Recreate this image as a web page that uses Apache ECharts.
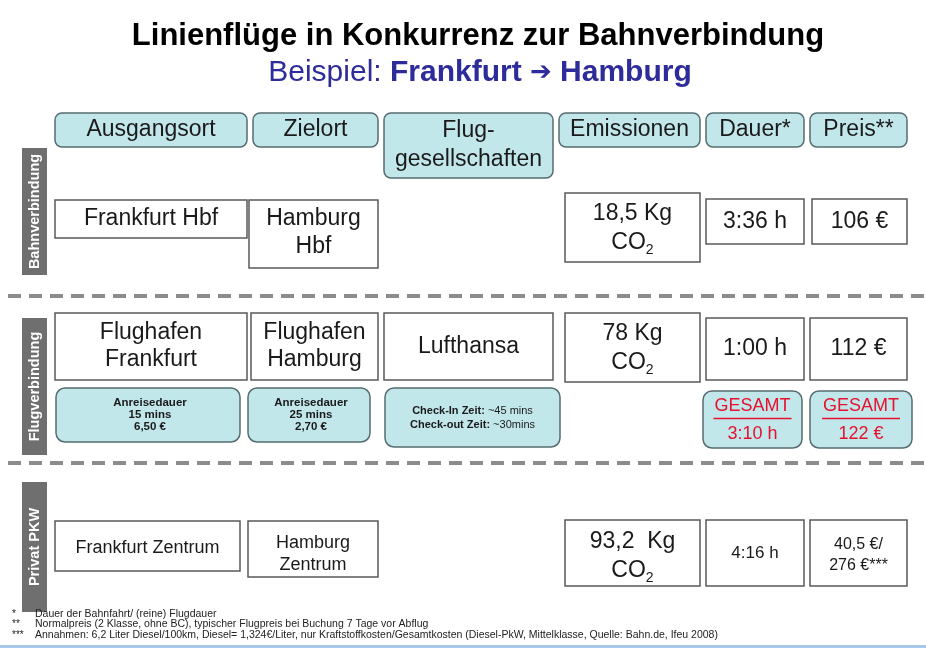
<!DOCTYPE html>
<html>
<head>
<meta charset="utf-8">
<script src="https://cdn.jsdelivr.net/npm/echarts@6/dist/echarts.min.js"></script>
<style>html,body{margin:0;padding:0;background:#fff}#chart{width:926px;height:648px}</style>
</head>
<body>
<div id="chart"></div>
<script>
// Inhalte der Tabelle
var titleText = 'Linienflüge in Konkurrenz zur Bahnverbindung';
var subtitleLead = 'Beispiel: ';
var subtitleFrom = 'Frankfurt';
var subtitleTo = 'Hamburg';
var columns = ['Ausgangsort', 'Zielort', 'Flug-\ngesellschaften', 'Emissionen', 'Dauer*', 'Preis**'];
var groups = ['Bahnverbindung', 'Flugverbindung', 'Privat PKW'];
var bahnRow = ['Frankfurt Hbf', 'Hamburg\nHbf', '', '18,5 Kg\nCO₂', '3:36 h', '106 €'];
var flugRow = ['Flughafen\nFrankfurt', 'Flughafen\nHamburg', 'Lufthansa', '78 Kg\nCO₂', '1:00 h', '112 €'];
var flugDetails = ['Anreisedauer\n15 mins\n6,50 €', 'Anreisedauer\n25 mins\n2,70 €', 'Check-In Zeit: ~45 mins\nCheck-out Zeit: ~30mins', '', 'GESAMT\n3:10 h', 'GESAMT\n122 €'];
var pkwRow = ['Frankfurt Zentrum', 'Hamburg\nZentrum', '', '93,2  Kg\nCO₂', '4:16 h', '40,5 €/\n276 €***'];
var footMarks = ['*', '**', '***'];
var footnotes = [
    'Dauer der Bahnfahrt/ (reine) Flugdauer',
    'Normalpreis (2 Klasse, ohne BC), typischer Flugpreis bei Buchung 7 Tage vor Abflug',
    'Annahmen: 6,2 Liter Diesel/100km, Diesel= 1,324€/Liter, nur Kraftstoffkosten/Gesamtkosten (Diesel-PkW, Mittelklasse, Quelle: Bahn.de, Ifeu 2008)'
];

// Lage der Kästen [x, y, breite, höhe]
var headerBoxes = [[55,113,192,34],[253,113,125,34],[384,113,169,65],[559,113,141,34],[706,113,98,34],[810,113,97,34]];
var bahnBoxes = [[55,200,192,38],[249,200,129,68],null,[565,193,135,69],[706,199,98,45],[812,199,95,45]];
var flugBoxes = [[55,313,192,67],[251,313,127,67],[384,313,169,67],[565,313,135,69],[706,318,98,62],[810,318,97,62]];
var detailBoxes = [[56,388,184,54],[248,388,122,54],[385,388,175,59],null,[703,391,99,57],[810,391,102,57]];
var pkwBoxes = [[55,521,185,50],[248,521,130,56],null,[565,520,135,66],[706,520,98,66],[810,520,97,66]];
var groupBars = [[22,148,25,127],[22,318,25,137],[22,482,25,130]];
// Schriftgröße, Zeilenabstand, Versatz je Zelle
var rowFonts = {bahn:[23,23,23,23,23,23], flug:[23,23,23,23,23,23], pkw:[18,18,18,23,17,16]};
var rowLines = {bahn:[28,28,28,29,28,28], flug:[27,27,27,29,27,27], pkw:[22,22,22,29,22,21]};
var rowShift = {bahn:[0,-1,0,1,0,0], flug:[0,0,0,1,0,0], pkw:[2,5,0,3,0,2]};

var FONT = '"Liberation Sans", Arial, sans-serif';
var CYAN = '#c2e7eb';
var CYAN_BORDER = '#566c70';
var TEXT = '#1a1a1a';

var elements = [];

function box(b, fill, stroke, r) {
    elements.push({
        type: 'rect',
        shape: {x: b[0], y: b[1], width: b[2], height: b[3], r: r || 0},
        style: {fill: fill, stroke: stroke, lineWidth: 1.5}
    });
}

function label(x, y, text, fs, extra) {
    var st = {
        text: text, x: x, y: y, align: 'center', verticalAlign: 'middle',
        font: fs + 'px ' + FONT, fill: TEXT, lineHeight: Math.round(fs * 1.25),
        rich: {s: {fontSize: Math.round(fs * 0.62), fontFamily: FONT, verticalAlign: 'bottom', fill: TEXT}}
    };
    for (var k in extra) st[k] = extra[k];
    elements.push({type: 'text', style: st});
}

function co2(t) { return t.replace('CO₂', 'CO{s|2}'); }

// Titel
label(478, 36, titleText, 31, {font: 'bold 31px ' + FONT, fill: '#000'});
label(480, 73, '{n|' + subtitleLead + '}{b|' + subtitleFrom + ' }{a|➔}{b| ' + subtitleTo + '}', 30, {
    rich: {
        n: {fontSize: 30, fontFamily: FONT, fill: '#2e2b9b'},
        b: {fontSize: 30, fontFamily: FONT, fontWeight: 'bold', fill: '#2e2b9b'},
        a: {fontSize: 26, fontFamily: '"DejaVu Sans"', fill: '#2e2b9b'}
    }
});

// Kopfzeile
columns.forEach(function (c, i) {
    var b = headerBoxes[i];
    box(b, CYAN, CYAN_BORDER, 7);
    label(b[0] + b[2] / 2, b[1] + b[3] / 2, c, 23, {lineHeight: 29});
});

// Gruppenbalken links
groups.forEach(function (g, i) {
    var b = groupBars[i];
    elements.push({type: 'rect', shape: {x: b[0], y: b[1], width: b[2], height: b[3]}, style: {fill: '#6f6f6f'}});
    elements.push({
        type: 'text', x: b[0] + b[2] / 2, y: b[1] + b[3] / 2, rotation: Math.PI / 2,
        style: {text: g, align: 'center', verticalAlign: 'middle', font: 'bold 14.5px ' + FONT, fill: '#fff'}
    });
});

// Trennlinien
[296, 463].forEach(function (y) {
    elements.push({
        type: 'line', shape: {x1: 8, y1: y, x2: 926, y2: y},
        style: {stroke: '#8c8c8c', lineWidth: 4, lineDash: [13, 8]}
    });
});

function whiteRow(row, boxes, key) {
    row.forEach(function (t, i) {
        var b = boxes[i];
        if (!b) return;
        box(b, '#fff', '#5a5a5a', 0);
        label(b[0] + b[2] / 2, b[1] + b[3] / 2 + rowShift[key][i], co2(t), rowFonts[key][i], {lineHeight: rowLines[key][i]});
    });
}
whiteRow(bahnRow, bahnBoxes, 'bahn');
whiteRow(flugRow, flugBoxes, 'flug');
whiteRow(pkwRow, pkwBoxes, 'pkw');

// Zusatzangaben Flug
flugDetails.forEach(function (t, i) {
    var b = detailBoxes[i];
    if (!b) return;
    box(b, CYAN, CYAN_BORDER, 9);
    var cx = b[0] + b[2] / 2, cy = b[1] + b[3] / 2;
    if (i < 2) {
        label(cx + 2, cy, t, 12, {font: 'bold 11.5px ' + FONT, lineHeight: 12});
    } else if (i === 2) {
        var rt = t.split('\n').map(function (l) { return l.replace(/^(.*?:)/, '{b|$1}'); }).join('\n');
        label(cx, cy, rt, 11, {lineHeight: 14, rich: {b: {fontSize: 11, fontWeight: 'bold', fontFamily: FONT, fill: TEXT}}});
    } else {
        label(cx, cy + 1, t, 18, {fill: '#e5112d', lineHeight: 28});
        elements.push({
            type: 'line', shape: {x1: cx - 39, y1: cy - 1, x2: cx + 39, y2: cy - 1},
            style: {stroke: '#e5112d', lineWidth: 1.5}
        });
    }
});

// Fußnoten
footnotes.forEach(function (t, i) {
    var y = 614 + i * 10.5;
    elements.push({type: 'text', style: {text: footMarks[i], x: 12, y: y, verticalAlign: 'middle', font: '10px ' + FONT, fill: '#222'}});
    elements.push({type: 'text', style: {text: t, x: 35, y: y, verticalAlign: 'middle', font: '10.5px ' + FONT, fill: '#222'}});
});
elements.push({type: 'rect', shape: {x: 0, y: 645, width: 926, height: 3}, style: {fill: '#a8c8ea'}});

var myChart = echarts.init(document.getElementById('chart'));
myChart.setOption({
    backgroundColor: '#fff',
    animation: false,
    graphic: {elements: elements}
});
</script>
</body>
</html>
